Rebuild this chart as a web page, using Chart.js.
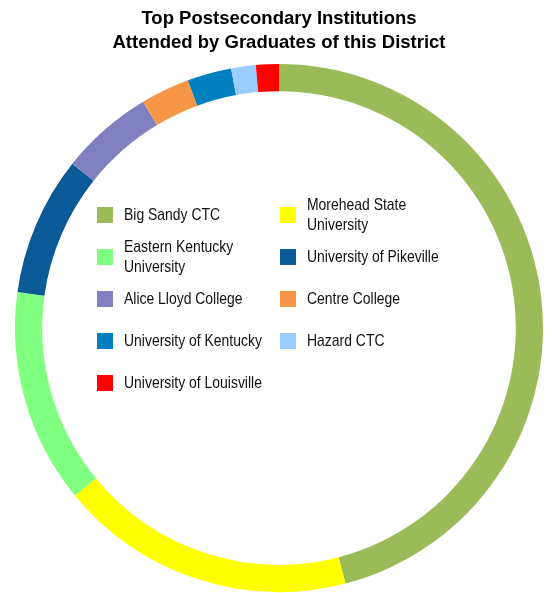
<!DOCTYPE html>
<html>
<head>
<meta charset="utf-8">
<script src="https://cdn.jsdelivr.net/npm/chart.js@4"></script>
<style>
  body { margin: 0; background: #fff; }
  #wrap { position: relative; width: 552px; height: 593px; }
  #legend { position: absolute; left: 0; top: 0; }
  .item { position: absolute; display: flex; align-items: center; white-space: nowrap;
          font-family: 'Liberation Sans', Arial, sans-serif;
          font-size: 17px; line-height: 20px; color: #111; transform: translateY(-50%); }
  .box { width: 16px; height: 16px; margin-right: 11px; flex: none; }
  .txt { display: inline-block; transform: scaleX(0.82); transform-origin: left center; }
</style>
</head>
<body>
<div id="wrap">
  <canvas id="grafica" width="552" height="593"></canvas>
  <div id="legend"></div>
</div>
<script>
const etiquetas = [
   'Big Sandy CTC',
   ['Morehead State', 'University'],
   ['Eastern Kentucky', 'University'],
   'University of Pikeville',
   'Alice Lloyd College',
   'Centre College',
   'University of Kentucky',
   'Hazard CTC',
   'University of Louisville'
];
const porcentajes = [45.9, 18.1, 13.1, 8.5, 5.7, 3.0, 2.7, 1.5, 1.4];
const colores = ['#9BBB59', '#FFFF00', '#80FF80', '#0B5A98', '#8080C0', '#F79646', '#0080C0', '#99CCFF', '#FF0000'];

const ctx = document.getElementById('grafica').getContext('2d');

const chart = new Chart(ctx, {
   type: 'doughnut',
   data: {
      labels: etiquetas,
      datasets: [{
         data: porcentajes,
         backgroundColor: colores,
         borderWidth: 0,
         hoverOffset: 0
      }]
   },
   options: {
      responsive: false,
      animation: false,
      cutout: '89.7%',
      layout: { padding: { left: 15, right: 9, top: 0, bottom: 1 } },
      plugins: {
         legend: { display: false },
         tooltip: { enabled: false },
         title: {
            display: true,
            text: ['Top Postsecondary Institutions', 'Attended by Graduates of this District'],
            color: '#000',
            font: { family: "'Liberation Sans', Arial, sans-serif", size: 18.5, weight: 'bold', lineHeight: '24px' },
            padding: { top: 7, bottom: 9 }
         }
      }
   }
});

// leyenda en html dentro del anillo, dos columnas
const leyenda = document.getElementById('legend');
etiquetas.forEach((lab, i) => {
   const col = i % 2, fila = Math.floor(i / 2);
   const el = document.createElement('div');
   el.className = 'item';
   el.style.left = (97 + col * 183) + 'px';
   el.style.top = (215 + fila * 42) + 'px';
   const texto = Array.isArray(lab) ? lab.join('<br>') : lab;
   el.innerHTML = '<span class="box" style="background:' + colores[i] + '"></span><span class="txt">' + texto + '</span>';
   leyenda.appendChild(el);
});
</script>
</body>
</html>
